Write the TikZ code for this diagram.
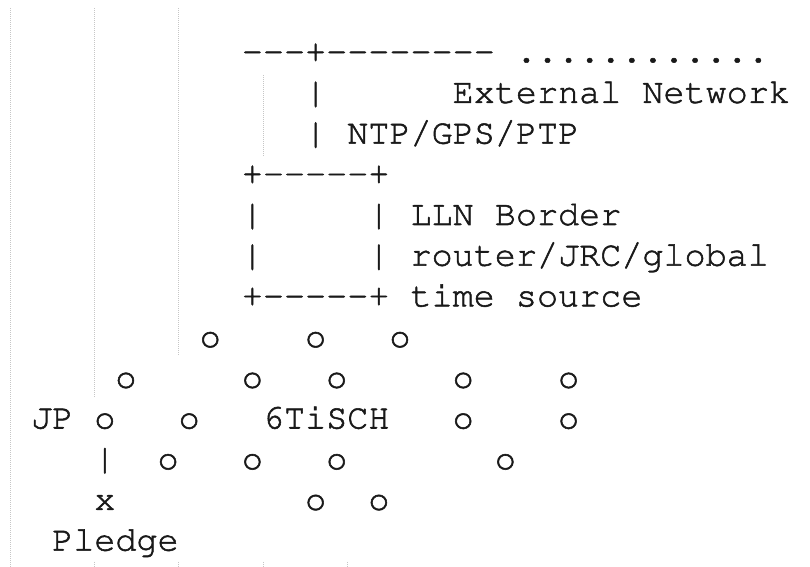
\documentclass[tikz,border=0pt]{standalone}
\usepackage[T1]{fontenc}
\newcommand{\asciifont}{\fontencoding{T1}\fontfamily{pcr}\fontseries{m}\fontshape{n}\selectfont}
% one dash per character, no en/em dash ligatures
\newcommand{\dash}{-{}}

\begin{document}
\begin{tikzpicture}
[x=15.81pt,y=-30.525pt,%
  every node/.style={anchor=base west,inner sep=0pt,outer sep=0pt,text=black!90,%
    font=\asciifont\fontsize{26.35pt}{30pt}\selectfont\special{pdf:literal 2 Tr 0.4 w}},%
  guide/.style={draw=gray!45,line width=0.6pt,dash pattern=on 0.7pt off 0.8pt}]
\useasboundingbox (-0.4744,-1.5283) rectangle (37.951,12.403);
%% editor guides
\draw[guide] (0,-1.33) -- (0,12.403);
\draw[guide] (4,-1.33) -- (4,8.23);
\draw[guide] (8,-1.33) -- (8,7.19);
\draw[guide] (12,0.31) -- (12,2.28);
\foreach \col in {4,8,12,16}
  \draw[guide] (\col,12.28) -- (\col,12.403);
%% uplink to the external network
\node (uplink) at (11,0) {\dash\dash\dash+\dash\dash\dash\dash\dash\dash\dash\dash};
\node (extdots) at (24,0) {............};
\node (bar1) at (14,1) {|};
\node (extnet) at (21,1) {External Network};
\node (bar2) at (14,2) {|};
\node (ntp) at (16,2) {NTP/GPS/PTP};
%% LLN border router
\node (boxtop) at (11,3) {+\dash\dash\dash\dash\dash+};
\node (boxl1) at (11,4) {|};
\node (boxr1) at (17,4) {|};
\node (lbr1) at (19,4) {LLN Border};
\node (boxl2) at (11,5) {|};
\node (boxr2) at (17,5) {|};
\node (lbr2) at (19,5) {router/JRC/global};
\node (boxbot) at (11,6) {+\dash\dash\dash\dash\dash+};
\node (lbr3) at (19,6) {time source};
%% 6TiSCH mesh
\foreach \col/\row [count=\i] in {9/7, 14/7, 18/7,
  5/8, 11/8, 15/8, 21/8, 26/8,
  4/9, 8/9, 21/9, 26/9,
  7/10, 11/10, 15/10, 23/10,
  14/11, 17/11}
  \node (mote\i) at (\col,\row) {o};
\node (jp) at (1,9) {JP};
\node (mesh) at (12,9) {6TiSCH};
%% pledge
\node (link) at (4,10) {|};
\node (px) at (4,11) {x};
\node (pledge) at (2,12) {Pledge};
\end{tikzpicture}
\end{document}
